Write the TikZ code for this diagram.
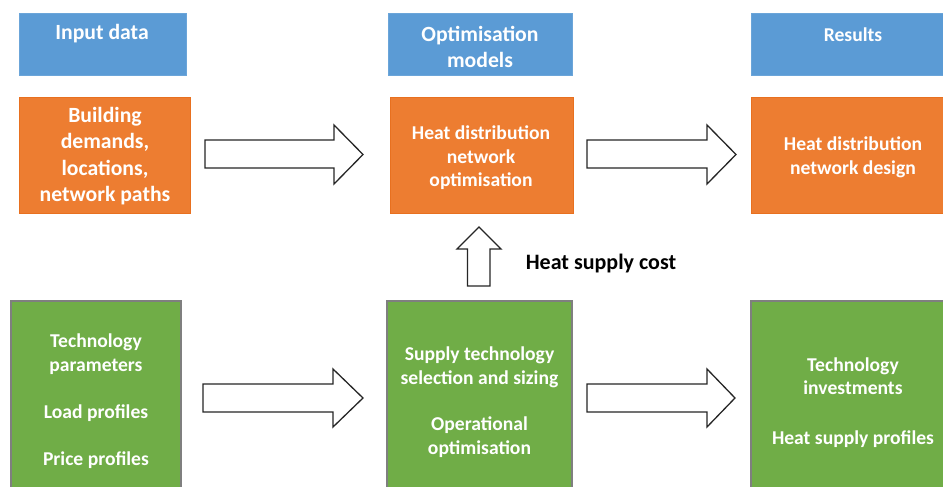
\documentclass[tikz,border=0pt]{standalone}
\usepackage{fontspec}
\setmainfont{Carlito}
\definecolor{hblue}{HTML}{5B9BD5}
\definecolor{horange}{HTML}{ED7D31}
\definecolor{horangeline}{HTML}{E8701F}
\definecolor{hgreen}{HTML}{70AD47}
\definecolor{hgreenline}{HTML}{7F7F7F}
\definecolor{arrowline}{HTML}{262626}
\tikzset{
  boxbase/.style={rectangle, inner sep=0pt, outer sep=0pt},
  bluebox/.style={boxbase, fill=hblue, draw=hblue!90!white, line width=0.6pt, minimum height=62pt},
  orangebox/.style={boxbase, fill=horange, draw=horangeline, line width=0.8pt, minimum height=116pt},
  greenbox/.style={boxbase, fill=hgreen, draw=hgreenline, line width=1.4pt, minimum height=200pt},
  bigtxt/.style={text=white, align=center, inner sep=0pt, font=\fontsize{21.7}{26.3}\selectfont\bfseries},
  smalltxt/.style={text=white, align=center, inner sep=0pt, font=\fontsize{19.6}{23.6}\selectfont\bfseries},
  labeltxt/.style={text=black, inner sep=0pt, font=\fontsize{22}{26}\selectfont\bfseries},
  blockarrow/.style={draw=arrowline, fill=white, line width=1.3pt, line join=miter}
}
\begin{document}
\begin{tikzpicture}[x=1pt,y=-1pt]
\clip (0,0) rectangle (943,487);
\fill[white] (0,0) rectangle (943,487);

% header boxes
\node[bluebox, minimum width=167pt] (hin) at (102.5,44) {};
\node[bluebox, minimum width=184pt] (hopt) at (480,44) {};
\node[bluebox, minimum width=204pt] (hres) at (853,44) {};
\node[bigtxt] (hintxt) at (102,34) {Input data};
\node[bigtxt] (hopttxt) at (480,47) {Optimisation\\models};
\node[smalltxt] (hrestxt) at (853,34.5) {Results};

% orange row
\node[orangebox, minimum width=171pt] (bld) at (104.5,155) {};
\node[orangebox, minimum width=183pt] (hdn) at (481.5,155) {};
\node[orangebox, minimum width=204pt] (hdd) at (853,155) {};
\node[bigtxt] (bldtxt) at (105,156) {Building\\demands,\\locations,\\network paths};
\node[smalltxt] (hdntxt) at (481,158) {Heat distribution\\network\\optimisation};
\node[smalltxt] (hddtxt) at (853,157) {Heat distribution\\network design};

% green row
\node[greenbox, minimum width=170pt] (tec) at (96,401) {};
\node[greenbox, minimum width=185pt] (sup) at (479.5,401) {};
\node[greenbox, minimum width=204pt] (inv) at (853,401) {};
\node[smalltxt] (tectxt) at (96,401) {Technology\\parameters\\[24pt]Load profiles\\[23pt]Price profiles};
\node[smalltxt] (suptxt) at (479.5,402) {Supply technology\\selection and sizing\\[23pt]Operational\\optimisation};
\node[smalltxt] (invtxt) at (853,402.5) {Technology\\investments\\[26pt]Heat supply profiles};

% label
\node[labeltxt] (cost) at (601,264) {Heat supply cost};

% block arrows
\draw[blockarrow] (205,140) -- (334,140) -- (334,125) -- (363,154.5) -- (334,184) -- (334,168) -- (205,168) -- cycle;
\draw[blockarrow] (587,140) -- (707,140) -- (707,125) -- (736,154.5) -- (707,184) -- (707,168) -- (587,168) -- cycle;
\draw[blockarrow] (203,384) -- (333,384) -- (333,369) -- (363,398) -- (333,427) -- (333,412) -- (203,412) -- cycle;
\draw[blockarrow] (587,384) -- (707,384) -- (707,369) -- (735,398) -- (707,427) -- (707,412) -- (587,412) -- cycle;
\draw[blockarrow] (467.5,286) -- (467.5,249) -- (457,249) -- (479,227) -- (501,249) -- (490,249) -- (490,286) -- cycle;
\end{tikzpicture}
\end{document}
